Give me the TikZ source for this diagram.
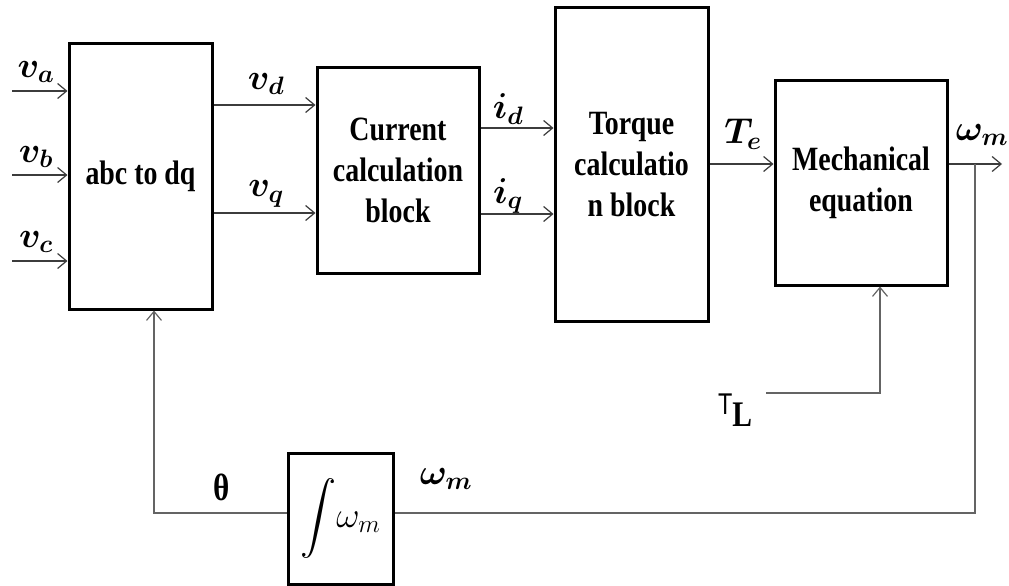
\RequirePackage{fix-cm}
\documentclass[tikz,border=0pt]{standalone}
\usepackage{amsmath, amssymb}
\usepackage{fontspec}
\setmainfont{Liberation Serif}
\setsansfont{Liberation Sans}
\newfontfamily\blkfont[FakeStretch=0.82]{Liberation Serif}
\newfontfamily\tfont[FakeStretch=0.78]{Liberation Sans}
\usepackage{xcolor}
\usepackage{tikz}
\usetikzlibrary{arrows.meta, positioning, calc}
\definecolor{linegray}{RGB}{60,60,60}
\definecolor{fbgray}{RGB}{100,100,100}

\begin{document}
\begin{tikzpicture}[x=1pt, y=-1pt,
    blk/.style={rectangle, draw=black, line width=3pt, inner sep=0pt, align=center, font=\blkfont\fontsize{34}{41}\selectfont\bfseries},
    lbl/.style={inner sep=0pt, font=\fontsize{36}{36}\selectfont\boldmath},
    arr/.style={-{Straight Barb[length=9pt, width=15pt]}, line width=1.2pt, linegray},
    fb/.style={line width=1.2pt, fbgray}
]
\useasboundingbox (0,0) rectangle (1009,586);

\node[blk, minimum width=143pt, minimum height=265pt] (abc) at (140.5,176.5) {abc to dq};
\node[blk, minimum width=162pt, minimum height=205pt] (cur) at (398,170.5) {Current\\calculation\\block};
\node[blk, minimum width=153pt, minimum height=313pt] (torq) at (631.5,164.5) {Torque\\calculatio\\n block};
\node[blk, minimum width=172pt, minimum height=205pt] (mech) at (861,182.5) {Mechanical\\equation};
\node[blk, minimum width=105pt, minimum height=131pt, font=\fontsize{36}{36}\selectfont] (intg) at (340.5,518.5) {$\displaystyle\int\!\omega_m$};

\coordinate (ina) at (12,91);
\coordinate (inb) at (12,175);
\coordinate (inc) at (12,261);
\coordinate (yd) at (0,105);
\coordinate (yq) at (0,213);
\coordinate (yid) at (0,128);
\coordinate (yiq) at (0,214);
\coordinate (yte) at (0,164);
\coordinate (wout) at (1002,164);
\coordinate (br) at (975,164);
\coordinate (brlow) at (975,513);
\coordinate (thl) at (154,513);
\coordinate (tl) at (766,393);

\node[lbl] (va) at (36,72) {$v_a$};
\node[lbl] (vb) at (36,157) {$v_b$};
\node[lbl] (vc) at (36,242) {$v_c$};
\node[lbl] (vd) at (266,84) {$v_d$};
\node[lbl] (vq) at (266,194) {$v_q$};
\node[lbl] (id) at (508,109) {$i_d$};
\node[lbl] (iq) at (508,196) {$i_q$};
\node[lbl] (te) at (743,134) {$T_e$};
\node[lbl] (wm) at (982,135) {$\omega_m$};
\node[lbl] (wmi) at (446,479) {$\omega_m$};
\node[lbl, font=\blkfont\fontsize{38}{38}\selectfont\bfseries] (th) at (222,487) {θ};
\node[inner sep=0pt] (tlab) at (735,410) {\raisebox{12pt}{\tfont\fontsize{30}{30}\selectfont T}\blkfont\fontsize{36}{36}\selectfont\bfseries L};

\draw[arr] (ina) -- (ina -| abc.west);
\draw[arr] (inb) -- (inb -| abc.west);
\draw[arr] (inc) -- (inc -| abc.west);
\draw[arr] (abc.east |- yd) -- (cur.west |- yd);
\draw[arr] (abc.east |- yq) -- (cur.west |- yq);
\draw[arr] (cur.east |- yid) -- (torq.west |- yid);
\draw[arr] (cur.east |- yiq) -- (torq.west |- yiq);
\draw[arr] (torq.east |- yte) -- (mech.west |- yte);
\draw[arr] (mech.east |- yte) -- (wout);
\draw[fb] (br) -- (brlow) -- (intg.east |- brlow);
\draw[arr, fbgray] (intg.west |- brlow) -- (thl) -- (thl |- abc.south);
\draw[arr, fbgray] (tl) -- (tl -| 880,0) -- (mech.south -| 880,0);
\end{tikzpicture}
\end{document}
